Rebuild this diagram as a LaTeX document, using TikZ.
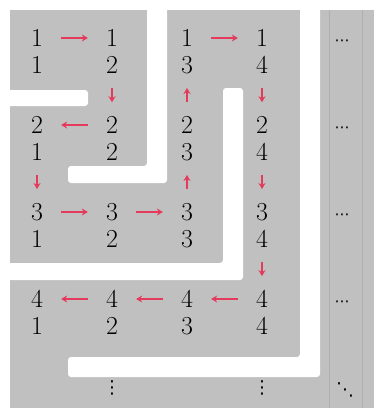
\documentclass[tikz,border=0pt]{standalone}
\usepackage{fontspec}
\usepackage{tikz}
\usetikzlibrary{arrows.meta, positioning}

\newfontfamily\dotsfont{DejaVu Sans}
\definecolor{bandgray}{RGB}{192,192,192}
\definecolor{lanegray}{RGB}{176,176,176}
\definecolor{steparrow}{RGB}{228,58,92}

\begin{document}
\begin{tikzpicture}[
            x=1bp, y=-1bp,
            cut/.style={fill=white, rounded corners=3bp},
            digit/.style={font=\fontsize{26}{30}\selectfont, inner sep=2bp, text=black},
            hdots/.style={font=\dotsfont\fontsize{15}{18}\selectfont, inner sep=0pt},
            vdots/.style={font=\dotsfont\fontsize{18}{22}\selectfont, inner sep=0pt},
            move/.style={draw=steparrow, line width=1.4bp, -{Stealth[length=6bp, width=7bp]}},
            hmove/.style={move, shorten <=16bp, shorten >=16bp},
            vmove/.style={move, shorten <=12bp, shorten >=12bp},
            lane/.style={draw=lanegray, line width=0.8bp}
        ]
            % GRID
            \def\colW{75}
            \def\rowH{87}

            \useasboundingbox (0,0) rectangle (374,408);
            \fill[white] (0,0) rectangle (374,408);
            \fill[bandgray] (10,10) rectangle (374,408);

            % cuts between the shells
            \fill[cut] (0,90) rectangle (88,106);
            \fill[cut] (147,0) -- (167,0) -- (167,183) -- (68,183) -- (68,166) -- (147,166) -- cycle;
            \fill[cut] (223,88) -- (243,88) -- (243,280) -- (0,280) -- (0,263) -- (223,263) -- cycle;
            \fill[cut] (300,0) -- (320,0) -- (320,377) -- (68,377) -- (68,357) -- (300,357) -- cycle;
            \draw[lane] (329,10) -- (329,408);
            \draw[lane] (362,10) -- (362,408);

            % pairs: row on top, column below
            \foreach \r in {1,...,4} {
                \foreach \c in {1,...,4} {
                    \node[digit] (n\r\c) at ({37+(\c-1)*\colW}, {38+(\r-1)*\rowH}) {\r};
                    \node[digit] (d\r\c) at ({37+(\c-1)*\colW}, {65+(\r-1)*\rowH}) {\c};
                }
                \node[hdots] (h\r) at (342, {43+(\r-1)*\rowH}) {⋯};
            }
            \node[vdots] (v2) at (112,388) {⋮};
            \node[vdots] (v4) at (262,388) {⋮};
            \node[vdots] (dd) at (345,390) {⋱};

            % the walk
            \draw[hmove] (n11) -- (n12);
            \draw[vmove] (d12) -- (n22);
            \draw[hmove] (n22) -- (n21);
            \draw[vmove] (d21) -- (n31);
            \draw[hmove] (n31) -- (n32);
            \draw[hmove] (n32) -- (n33);
            \draw[vmove] (n33) -- (d23);
            \draw[vmove] (n23) -- (d13);
            \draw[hmove] (n13) -- (n14);
            \draw[vmove] (d14) -- (n24);
            \draw[vmove] (d24) -- (n34);
            \draw[vmove] (d34) -- (n44);
            \draw[hmove] (n44) -- (n43);
            \draw[hmove] (n43) -- (n42);
            \draw[hmove] (n42) -- (n41);
        \end{tikzpicture}
\end{document}
